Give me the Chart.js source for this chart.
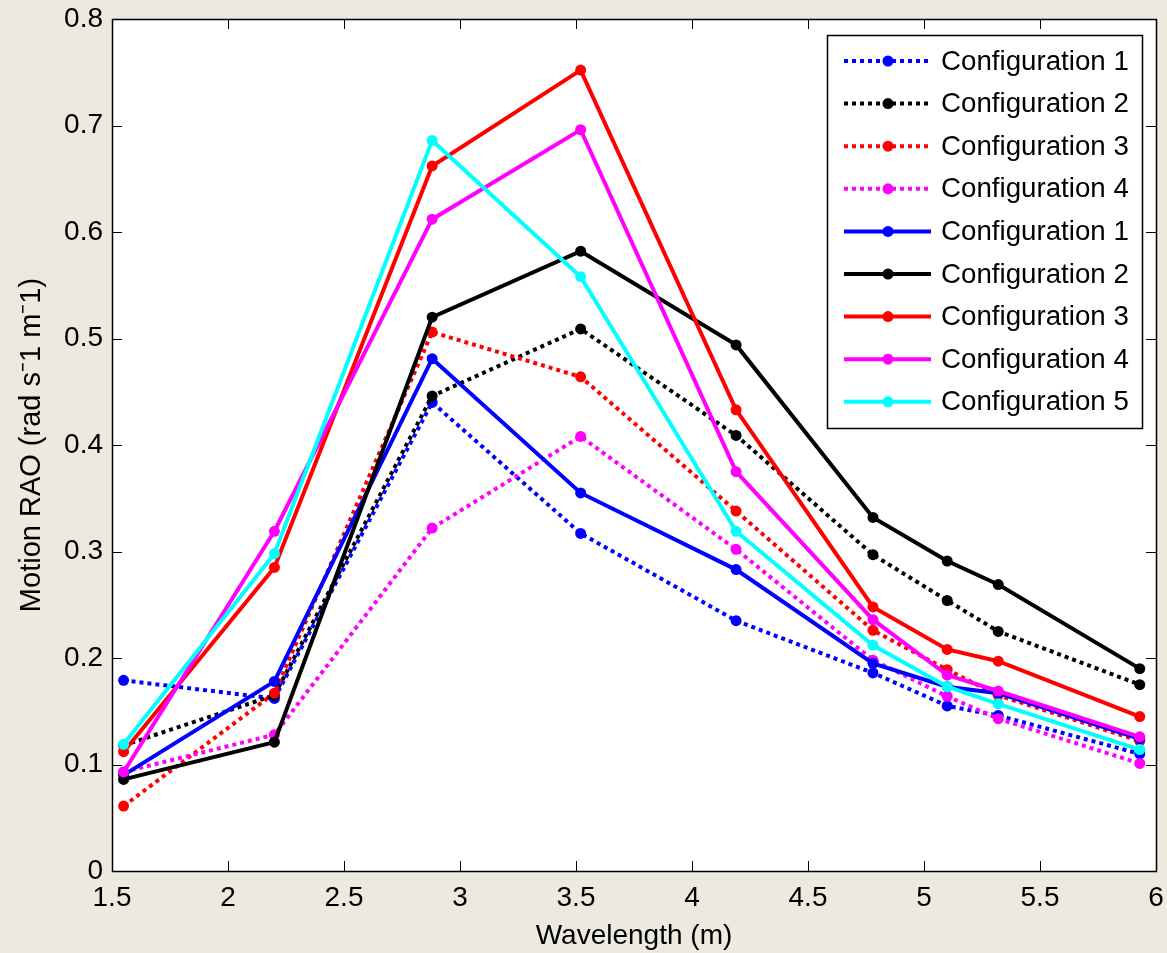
<!DOCTYPE html>
<html>
<head>
<meta charset="utf-8">
<title>Motion RAO</title>
<script src="https://cdn.jsdelivr.net/npm/chart.js@4.4.1/dist/chart.umd.min.js"></script>
<style>
  html, body { margin: 0; padding: 0; background: #ECE9DF; }
  #wrap { width: 1167px; height: 953px; }
</style>
</head>
<body>
<div id="wrap"><canvas id="raoChart" width="1167" height="953"></canvas></div>
<script>
// wavelengths the RAO was evaluated at
const wavelength = [1.55, 2.2, 2.88, 3.52, 4.19, 4.78, 5.1, 5.32, 5.93];

// dotted series
const cfg1Dot = [0.179, 0.162, 0.440, 0.317, 0.235, 0.186, 0.155, 0.146, 0.110];
const cfg2Dot = [0.118, 0.165, 0.446, 0.509, 0.409, 0.297, 0.254, 0.225, 0.175];
const cfg3Dot = [0.061, 0.167, 0.506, 0.464, 0.338, 0.226, 0.189, 0.165, 0.122];
const cfg4Dot = [0.093, 0.128, 0.322, 0.408, 0.302, 0.198, 0.164, 0.143, 0.101];

// solid series
const cfg1 = [0.090, 0.178, 0.481, 0.355, 0.283, 0.195, 0.173, 0.167, 0.124];
const cfg2 = [0.086, 0.121, 0.520, 0.582, 0.494, 0.332, 0.291, 0.269, 0.190];
const cfg3 = [0.112, 0.285, 0.662, 0.752, 0.433, 0.248, 0.208, 0.197, 0.145];
const cfg4 = [0.093, 0.319, 0.612, 0.696, 0.375, 0.236, 0.184, 0.169, 0.126];
const cfg5 = [0.119, 0.298, 0.686, 0.558, 0.319, 0.212, 0.173, 0.157, 0.114];

const seriesLabels = ['Configuration 1', 'Configuration 2', 'Configuration 3', 'Configuration 4',
                      'Configuration 1', 'Configuration 2', 'Configuration 3', 'Configuration 4', 'Configuration 5'];

// tick labels
const xTicks = [1.5, 2, 2.5, 3, 3.5, 4, 4.5, 5, 5.5, 6];
const yTicks = [0, 0.1, 0.2, 0.3, 0.4, 0.5, 0.6, 0.7, 0.8];

const FONT = 'Liberation Sans, Arial, sans-serif';
const DOT = [4, 4];

const makeSet = (label, values, color, dotted, idx) => ({
  label: label,
  data: values.map((v, i) => ({x: wavelength[i], y: v})),
  borderColor: color,
  backgroundColor: color,
  borderWidth: 4,
  borderDash: dotted ? DOT : [],
  borderCapStyle: 'butt',
  pointRadius: 5.5,
  pointBorderWidth: 0,
  pointBackgroundColor: color,
  tension: 0,
  order: 20 - idx   // later series drawn on top, like the original
});

const datasets = [
  makeSet(seriesLabels[0], cfg1Dot, '#0000FF', true, 0),
  makeSet(seriesLabels[1], cfg2Dot, '#000000', true, 1),
  makeSet(seriesLabels[2], cfg3Dot, '#FF0000', true, 2),
  makeSet(seriesLabels[3], cfg4Dot, '#FF00FF', true, 3),
  makeSet(seriesLabels[4], cfg1, '#0000FF', false, 4),
  makeSet(seriesLabels[5], cfg2, '#000000', false, 5),
  makeSet(seriesLabels[6], cfg3, '#FF0000', false, 6),
  makeSet(seriesLabels[7], cfg4, '#FF00FF', false, 7),
  makeSet(seriesLabels[8], cfg5, '#00FFFF', false, 8),
];

// white plot area + box with inward ticks + legend box
const axesBox = {
  id: 'axesBox',
  beforeDatasetsDraw(chart) {
    const {ctx, chartArea: a} = chart;
    ctx.save();
    ctx.fillStyle = '#FFFFFF';
    ctx.fillRect(a.left, a.top, a.right - a.left, a.bottom - a.top);
    ctx.restore();
  },
  afterDraw(chart) {
    const {ctx, chartArea: a, scales} = chart;
    const tl = 10;
    ctx.save();
    ctx.strokeStyle = '#000000';
    ctx.lineWidth = 1;
    ctx.beginPath();
    xTicks.forEach(t => {
      const px = Math.round(scales.x.getPixelForValue(t)) + 0.5;
      ctx.moveTo(px, a.bottom); ctx.lineTo(px, a.bottom - tl);
      ctx.moveTo(px, a.top); ctx.lineTo(px, a.top + tl);
    });
    yTicks.forEach(t => {
      const py = Math.round(scales.y.getPixelForValue(t)) + 0.5;
      ctx.moveTo(a.left, py); ctx.lineTo(a.left + tl, py);
      ctx.moveTo(a.right, py); ctx.lineTo(a.right - tl, py);
    });
    ctx.stroke();
    ctx.lineWidth = 1.5;
    ctx.strokeRect(Math.round(a.left) + 0.5, Math.round(a.top) + 0.5,
                   Math.round(a.right - a.left), Math.round(a.bottom - a.top));

    // legend
    const lx = 827, ly = 35, lw = 315, lh = 393;
    ctx.fillStyle = '#FFFFFF';
    ctx.fillRect(lx, ly, lw, lh);
    ctx.lineWidth = 1.5;
    ctx.strokeStyle = '#000000';
    ctx.strokeRect(lx + 0.5, ly + 0.5, lw, lh);
    ctx.font = '27.7px ' + FONT;
    ctx.textBaseline = 'middle';
    chart.data.datasets.forEach((ds, i) => {
      const cy = 61 + i * 42.6;
      ctx.strokeStyle = ds.borderColor;
      ctx.lineWidth = 4;
      ctx.lineCap = 'butt';
      ctx.setLineDash(ds.borderDash);
      ctx.beginPath();
      ctx.moveTo(844, cy); ctx.lineTo(931, cy);
      ctx.stroke();
      ctx.setLineDash([]);
      ctx.fillStyle = ds.borderColor;
      ctx.beginPath();
      ctx.arc(888, cy, 5.5, 0, Math.PI * 2);
      ctx.fill();
      ctx.fillStyle = '#000000';
      ctx.fillText(ds.label, 941, cy + 1);
    });
    ctx.restore();
  }
};

const fmt = v => String(+Number(v).toFixed(2));

const ctx = document.getElementById('raoChart');
const raoChart = new Chart(ctx, {
  type: 'line',
  data: { datasets: datasets },
  plugins: [axesBox],
  options: {
    responsive: false,
    animation: false,
    layout: { padding: { left: 0, top: 19, right: 11, bottom: 0 } },
    plugins: {
      legend: { display: false },
      tooltip: { enabled: false }
    },
    scales: {
      x: {
        type: 'linear',
        min: 1.5,
        max: 6,
        afterBuildTicks: s => { s.ticks = xTicks.map(v => ({value: v})); },
        afterFit: s => { s.height = 82; s.paddingLeft = 0; s.paddingRight = 0; },
        grid: { display: false, drawTicks: false },
        border: { display: false },
        ticks: { color: '#000', padding: 10, maxRotation: 0, autoSkip: false,
                 font: { family: FONT, size: 28 }, callback: fmt },
        title: { display: true, text: 'Wavelength (m)', color: '#000',
                 font: { family: FONT, size: 28 }, padding: { top: 0, bottom: 0 } }
      },
      y: {
        type: 'linear',
        min: 0,
        max: 0.8,
        afterBuildTicks: s => { s.ticks = yTicks.map(v => ({value: v})); },
        afterFit: s => { s.width = 112; s.paddingTop = 0; s.paddingBottom = 0; },
        grid: { display: false, drawTicks: false },
        border: { display: false },
        ticks: { color: '#000', padding: 9, autoSkip: false,
                 font: { family: FONT, size: 28 }, callback: fmt },
        title: { display: true, text: 'Motion RAO (rad s\u207B1 m\u207B1)', color: '#000',
                 font: { family: FONT, size: 29 }, padding: { top: 15, bottom: 0 } }
      }
    }
  }
});
</script>
</body>
</html>
